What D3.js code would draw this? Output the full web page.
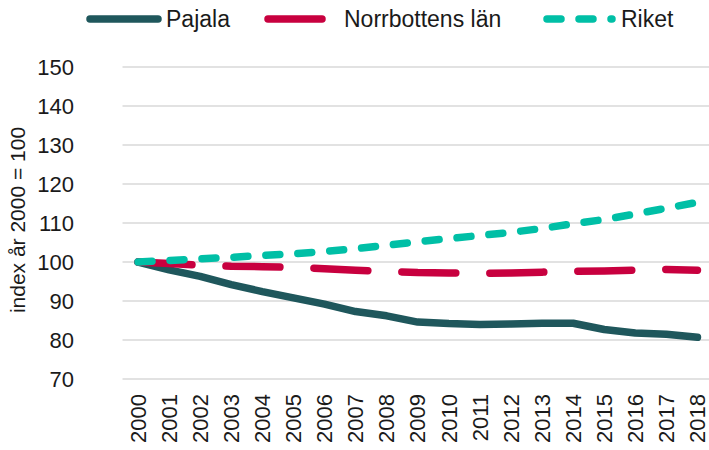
<!DOCTYPE html>
<html>
<head>
<meta charset="utf-8">
<script src="https://cdn.jsdelivr.net/npm/d3@7"></script>
<style>
  body { margin: 0; background: #fff; }
  text { font-family: "Liberation Sans", Arial, sans-serif; fill: #1a1a1a; }
</style>
</head>
<body>
<div id="chart"></div>
<script>
const width = 709;
const height = 450;

const years = ["2000","2001","2002","2003","2004","2005","2006","2007","2008","2009",
               "2010","2011","2012","2013","2014","2015","2016","2017","2018"];
const pajala = [100, 98.0, 96.3, 94.2, 92.4, 90.8, 89.2, 87.3, 86.2, 84.6,
                84.2, 84.0, 84.1, 84.3, 84.3, 82.7, 81.8, 81.5, 80.7];
const norrbotten = [100, 99.6, 99.2, 98.9, 98.8, 98.6, 98.3, 97.9, 97.6, 97.3,
                    97.2, 97.1, 97.2, 97.4, 97.6, 97.7, 97.9, 98.1, 97.9];
const riket = [100, 100.4, 100.8, 101.2, 101.7, 102.1, 102.7, 103.4, 104.3, 105.2,
               106.0, 106.8, 107.6, 108.6, 109.8, 110.9, 112.3, 113.8, 115.3];
const yTicks = [70, 80, 90, 100, 110, 120, 130, 140, 150];

const series = [
  { name: "Pajala", values: pajala, color: "#1f575c", dash: null, lx: [90, 158], tx: 166 },
  { name: "Norrbottens län", values: norrbotten, color: "#c8003f", dash: "54,34", lx: [268, 326], tx: 344 },
  { name: "Riket", values: riket, color: "#00bfa6", dash: "14,18", lx: [547, 612], tx: 621 }
];

const margin = { top: 67, right: -4, bottom: 71, left: 122.5 };

const svg = d3.select("#chart")
  .append("svg")
  .attr("width", width)
  .attr("height", height);

const x = d3.scaleBand()
  .domain(years)
  .range([margin.left, width - margin.right]);

const y = d3.scaleLinear()
  .domain([70, 150])
  .range([height - margin.bottom, margin.top]);

// gridlines
svg.append("g")
  .selectAll("line")
  .data(yTicks)
  .enter()
  .append("line")
  .attr("x1", margin.left)
  .attr("x2", width - margin.right)
  .attr("y1", d => y(d))
  .attr("y2", d => y(d))
  .attr("stroke", "#d9d9d9")
  .attr("stroke-width", 1.5);

// y axis labels
const yAxis = svg.append("g")
  .attr("transform", "translate(74,0)")
  .call(d3.axisLeft(y).tickValues(yTicks).tickSize(0).tickPadding(0));
yAxis.select(".domain").remove();
yAxis.selectAll("text")
  .style("font-size", "22px")
  .style("font-family", "Liberation Sans, Arial, sans-serif")
  .attr("fill", "#1a1a1a");

// x axis labels
const xAxis = svg.append("g")
  .attr("transform", "translate(0," + (height - margin.bottom) + ")")
  .call(d3.axisBottom(x).tickSize(0).tickPadding(0));
xAxis.select(".domain").remove();
xAxis.selectAll("text")
  .style("font-size", "22px")
  .style("font-family", "Liberation Sans, Arial, sans-serif")
  .attr("fill", "#1a1a1a")
  .attr("transform", "rotate(-90)")
  .attr("text-anchor", "end")
  .attr("x", -15)
  .attr("y", 0)
  .attr("dy", "0.35em");

// y axis title
svg.append("text")
  .attr("transform", "translate(25,220) rotate(-90)")
  .attr("text-anchor", "middle")
  .style("font-size", "21px")
  .text("index år 2000 = 100");

const line = d3.line()
  .x((d, i) => x(years[i]) + x.bandwidth() / 2)
  .y(d => y(d));

series.forEach(s => {
  svg.append("path")
    .datum(s.values)
    .attr("d", line)
    .attr("fill", "none")
    .attr("stroke", s.color)
    .attr("stroke-width", 7.5)
    .attr("stroke-linecap", "round")
    .attr("stroke-linejoin", "round")
    .attr("stroke-dasharray", s.dash);
});

// legend
const legend = svg.append("g");
series.forEach(s => {
  legend.append("line")
    .attr("x1", s.lx[0])
    .attr("x2", s.lx[1])
    .attr("y1", 19)
    .attr("y2", 19)
    .attr("stroke", s.color)
    .attr("stroke-width", 7.5)
    .attr("stroke-linecap", "round")
    .attr("stroke-dasharray", s.dash);
  legend.append("text")
    .attr("x", s.tx)
    .attr("y", 19)
    .attr("dy", "0.35em")
    .style("font-size", "23px")
    .text(s.name);
});
</script>
</body>
</html>
